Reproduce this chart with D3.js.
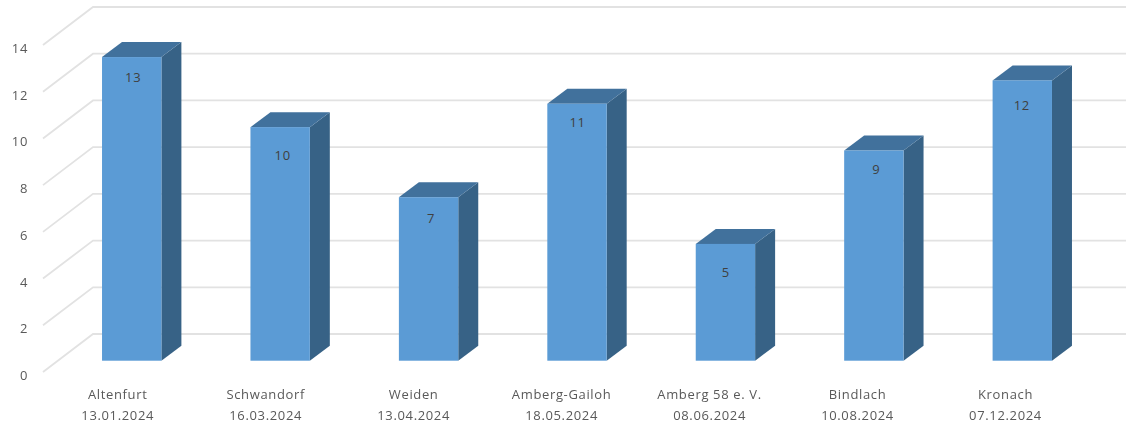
<!DOCTYPE html>
<html>
<head>
<meta charset="utf-8">
<script src="https://cdn.jsdelivr.net/npm/d3@7"></script>
<style>
  html, body { margin: 0; padding: 0; background: #fff; }
  svg { display: block; filter: blur(0.6px); }
  text { font-family: "Open Sans", sans-serif; font-size: 13px; letter-spacing: 0.65px; fill: #595959; }
</style>
</head>
<body>
<svg id="chart"></svg>
<script>
const places = ['Altenfurt', 'Schwandorf', 'Weiden', 'Amberg-Gailoh', 'Amberg 58 e. V.', 'Bindlach', 'Kronach'];
const dates = ['13.01.2024', '16.03.2024', '13.04.2024', '18.05.2024', '08.06.2024', '10.08.2024', '07.12.2024'];
const values = [13, 10, 7, 11, 5, 9, 12];
const y_ticks = [0, 2, 4, 6, 8, 10, 12, 14];
// the value labels don't sit at a constant spot on the bars
const label_dx = [1.5, 2.5, 2.5, 0.5, 0.5, 2.5, -0.5];
const label_dy = [25, 33, 26, 23, 33, 24, 30];

const width = 1126;
const height = 425;
// how far the back wall sits behind the bars, and the bars' own depth
const wall_dx = 50;
const wall_dy = 38;
const bar_dx = 20;
const bar_dy = 15;

const svg = d3.select('#chart')
  .attr('width', width)
  .attr('height', height)
  .attr('viewBox', [0, 0, width, height]);

const x = d3.scaleBand()
  .domain(places)
  .range([57.5, 1096.5])
  .paddingInner(0.6)
  .paddingOuter(0.3);

// category labels run on a slightly tighter step than the bars
const x_label = d3.scalePoint()
  .domain(places)
  .range([117.7, 1005.5]);

const y = d3.scaleLinear()
  .domain([0, 14])
  .range([360.7, 33.7]);

// wall_y is y at the back wall, front_y at the front edge of the floor
const wall_y = v => y(v) - 26.7;
const front_y = v => wall_y(v) + wall_dy;
const wall_left = 93;

const grid = svg.append('g')
  .attr('fill', 'none')
  .attr('stroke', '#e2e2e2')
  .attr('stroke-width', 1.8);

grid.selectAll('.wall')
  .data(y_ticks)
  .join('path')
  .attr('class', 'wall')
  .attr('d', d => `M ${wall_left - wall_dx} ${front_y(d)} L ${wall_left} ${wall_y(d)} L ${width} ${wall_y(d)}`);

const bar = svg.append('g')
  .selectAll('.bar')
  .data(values)
  .join('g')
  .attr('class', 'bar')
  .attr('transform', (d, i) => `translate(${x(places[i])}, 0)`);

bar.append('path')
  .attr('fill', '#376286')
  .attr('d', d => {
    const w = x.bandwidth();
    return `M ${w} ${y(d)} L ${w + bar_dx} ${y(d) - bar_dy} L ${w + bar_dx} ${y(0) - bar_dy} L ${w} ${y(0)} Z`;
  });

bar.append('path')
  .attr('fill', '#41719c')
  .attr('d', d => {
    const w = x.bandwidth();
    return `M 0 ${y(d)} L ${bar_dx} ${y(d) - bar_dy} L ${w + bar_dx} ${y(d) - bar_dy} L ${w} ${y(d)} Z`;
  });

bar.append('rect')
  .attr('fill', '#5b9bd5')
  .attr('y', d => y(d))
  .attr('width', x.bandwidth())
  .attr('height', d => y(0) - y(d));

bar.append('text')
  .text(d => d)
  .attr('x', (d, i) => x.bandwidth() / 2 + label_dx[i])
  .attr('y', (d, i) => y(d) + label_dy[i])
  .attr('text-anchor', 'middle')
  .style('fill', '#404040');

svg.append('g')
  .selectAll('.y-label')
  .data(y_ticks)
  .join('text')
  .attr('class', 'y-label')
  .text(d => d)
  .attr('x', 28)
  .attr('y', d => front_y(d) + 8)
  .attr('text-anchor', 'end');

const label = svg.append('g')
  .selectAll('.x-label')
  .data(places)
  .join('g')
  .attr('class', 'x-label')
  .attr('transform', d => `translate(${x_label(d)}, 0)`);

label.append('text')
  .text(d => d)
  .attr('y', 398.5)
  .attr('text-anchor', 'middle');

label.append('text')
  .text((d, i) => dates[i])
  .attr('y', 419.5)
  .attr('text-anchor', 'middle');
</script>
</body>
</html>
